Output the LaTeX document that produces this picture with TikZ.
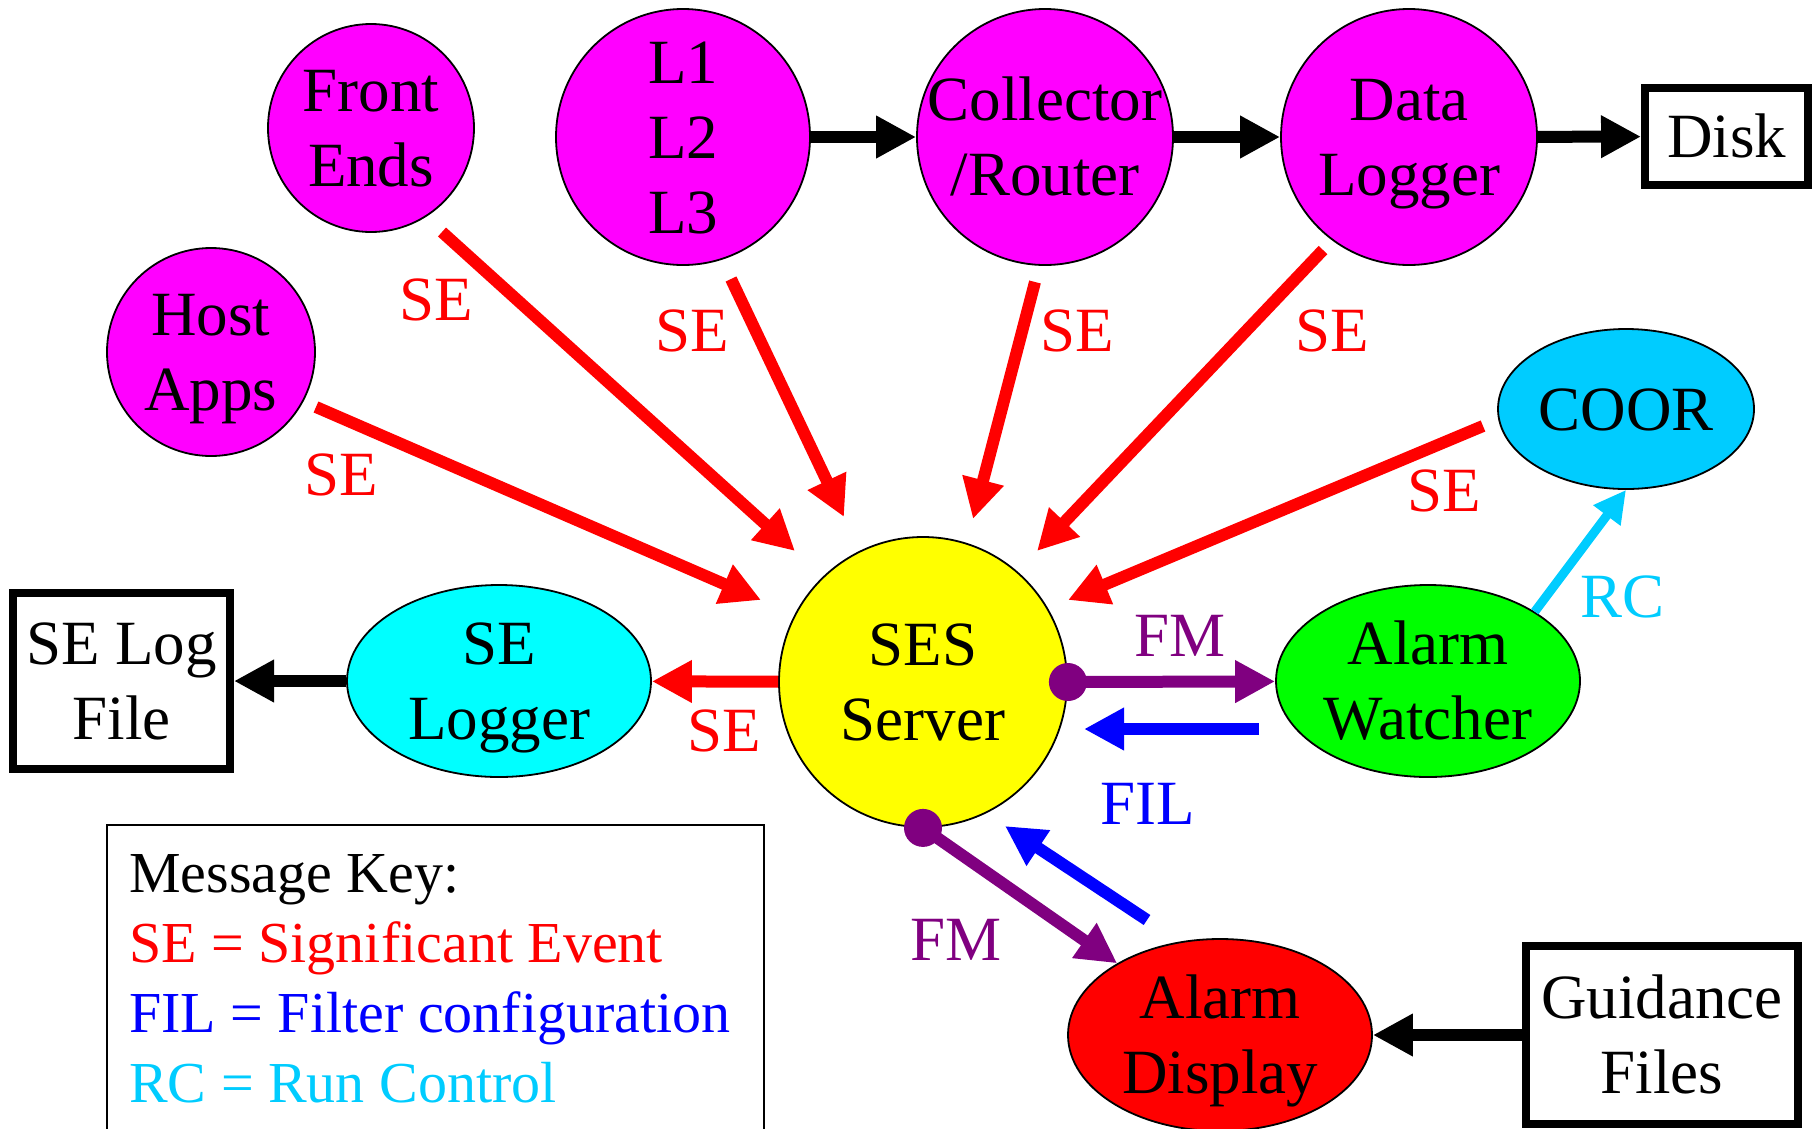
\documentclass[tikz,border=0pt]{standalone}
\usepackage{fontspec}
\setmainfont{Liberation Serif}
\usetikzlibrary{shapes.geometric,arrows.meta,calc}
\definecolor{mag}{HTML}{FF00FF}
\definecolor{sesyel}{HTML}{FFFF00}
\definecolor{selcyan}{HTML}{00FFFF}
\definecolor{coorblue}{HTML}{00CCFF}
\definecolor{awgreen}{HTML}{00FF00}
\definecolor{adred}{HTML}{FF0000}
\definecolor{fmpurple}{HTML}{800080}
\definecolor{filblue}{HTML}{0000FF}
\definecolor{sered}{HTML}{FF0000}
\newcommand{\sT}{\vrule height 0.891em depth 0.216em width 0pt}
\begin{document}
\begin{tikzpicture}[x=1pt,y=-1pt,
  ell/.style={ellipse,draw=black,line width=1.8pt,inner sep=0pt},
  txt/.style={font=\fontsize{63}{75}\selectfont,align=center,inner sep=0pt},
  filebox/.style={rectangle,draw=black,line width=8pt,inner sep=0pt,font=\fontsize{63}{75}\selectfont,align=center},
  arr/.style={line width=12pt,-{Triangle[length=40pt,width=40pt]}},
  rcarr/.style={line width=9pt,-{Triangle[length=32pt,width=32pt]},draw=coorblue},
  msg/.style={font=\fontsize{63}{75}\selectfont,inner sep=0pt},
  keytxt/.style={font=\fontsize{58}{70}\selectfont,inner sep=0pt,anchor=base west}]
\useasboundingbox (0,0) rectangle (1820,1128);

% nodes
\node[ell,fill=mag,minimum width=206pt,minimum height=208pt] (fe) at (371,128) {};
\node[txt] (fe-t) at (fe) {\sT Front\\\sT Ends};
\node[ell,fill=mag,minimum width=254pt,minimum height=256pt] (l123) at (683,137) {};
\node[txt] (l123-t) at (l123) {\sT L1\\\sT L2\\\sT L3};
\node[ell,fill=mag,minimum width=256pt,minimum height=256pt] (coll) at (1045,137) {};
\node[txt] (coll-t) at (coll) {\sT Collector\\\sT /Router};
\node[ell,fill=mag,minimum width=256pt,minimum height=256pt] (dlog) at (1409,137) {};
\node[txt] (dlog-t) at (dlog) {\sT Data\\\sT Logger};
\node[filebox,minimum width=163pt,minimum height=97pt] (disk) at (1726.5,136.5) {\sT Disk};
\node[ell,fill=mag,minimum width=208pt,minimum height=208pt] (host) at (211,352) {};
\node[txt] (host-t) at (host) {\sT Host\\\sT Apps};
\node[ell,fill=coorblue,minimum width=256pt,minimum height=160pt] (coor) at (1626,409) {};
\node[txt] (coor-t) at (coor) {\sT COOR};
\node[ell,fill=sesyel,minimum width=288pt,minimum height=290pt] (ses) at (923,682) {};
\node[txt] (ses-t) at (ses) {\sT SES\\\sT Server};
\node[ell,fill=selcyan,minimum width=304pt,minimum height=192pt] (selog) at (499,681) {};
\node[txt] (selog-t) at (selog) {\sT SE\\\sT Logger};
\node[filebox,minimum width=217pt,minimum height=176pt] (self) at (121.5,681) {\sT SE Log\\\sT File};
\node[ell,fill=awgreen,minimum width=304pt,minimum height=192pt] (aw) at (1428,681) {};
\node[txt] (aw-t) at (aw) {\sT Alarm\\\sT Watcher};
\node[ell,fill=adred,minimum width=304pt,minimum height=192pt] (ad) at (1220,1035) {};
\node[txt] (ad-t) at (ad) {\sT Alarm\\\sT Display};
\node[filebox,minimum width=272pt,minimum height=178pt] (gf) at (1662,1035) {\sT Guidance\\\sT Files};

% black data flow
\draw[arr] (l123) -- (coll);
\draw[arr] (coll) -- (dlog);
\draw[arr] (dlog) -- (disk);
\draw[arr] (selog) -- (self);
\draw[arr] (gf) -- (ad);

% SE arrows
\draw[arr,draw=sered] ($(host)+(105,55)$) -- ($(ses)+(-162,-82)$);
\draw[arr,draw=sered] ($(fe)+(71,104)$) -- ($(ses)+(-128,-131)$);
\draw[arr,draw=sered] ($(l123)+(48,142)$) -- ($(ses)+(-79,-165)$);
\draw[arr,draw=sered] ($(coll)+(-10,145)$) -- ($(ses)+(50,-163)$);
\draw[arr,draw=sered] ($(dlog)+(-86,113)$) -- ($(ses)+(114,-131)$);
\draw[arr,draw=sered] ($(coor)+(-143,17)$) -- ($(ses)+(145,-82)$);
\draw[arr,draw=sered] (ses) -- (selog);

\node[msg,text=sered] (se1) at (341,475) {SE};
\node[msg,text=sered] (se2) at (436,300) {SE};
\node[msg,text=sered] (se3) at (692,331) {SE};
\node[msg,text=sered] (se4) at (1077,331) {SE};
\node[msg,text=sered] (se5) at (1332,331) {SE};
\node[msg,text=sered] (se6) at (1444,491) {SE};
\node[msg,text=sered] (se7) at (724,731) {SE};

% FM arrows
\fill[fmpurple] (ses.east) circle[radius=19pt];
\draw[arr,draw=fmpurple] (ses.east) -- (aw);
\fill[fmpurple] (ses.south) circle[radius=19pt];
\draw[arr,draw=fmpurple] (ses.south) -- (ad);
\node[msg,text=fmpurple] (fm1) at (1180,636) {FM};
\node[msg,text=fmpurple] (fm2) at (956,940) {FM};

% FIL arrows
\draw[arr,draw=filblue] ($(aw)+(-169,48)$) -- ($(ses)+(161,47)$);
\draw[arr,draw=filblue] ($(ad)+(-73,-115)$) -- ($(ses)+(82,144)$);
\node[msg,text=filblue] (fil) at (1148,804) {FIL};

% RC arrow
\draw[rcarr] (aw.33) -- (coor.south);
\node[msg,text=coorblue] (rc) at (1622,597) {RC};

% message key
\draw[line width=2pt] (107,1140) -- (107,825) -- (764,825) -- (764,1140);
\node[keytxt] (k1) at (129,892) {Message Key:};
\node[keytxt,text=sered] (k2) at (129,962) {SE = Significant Event};
\node[keytxt,text=filblue] (k3) at (129,1032) {FIL = Filter configuration};
\node[keytxt,text=coorblue] (k4) at (129,1102) {RC = Run Control};
\end{tikzpicture}
\end{document}
